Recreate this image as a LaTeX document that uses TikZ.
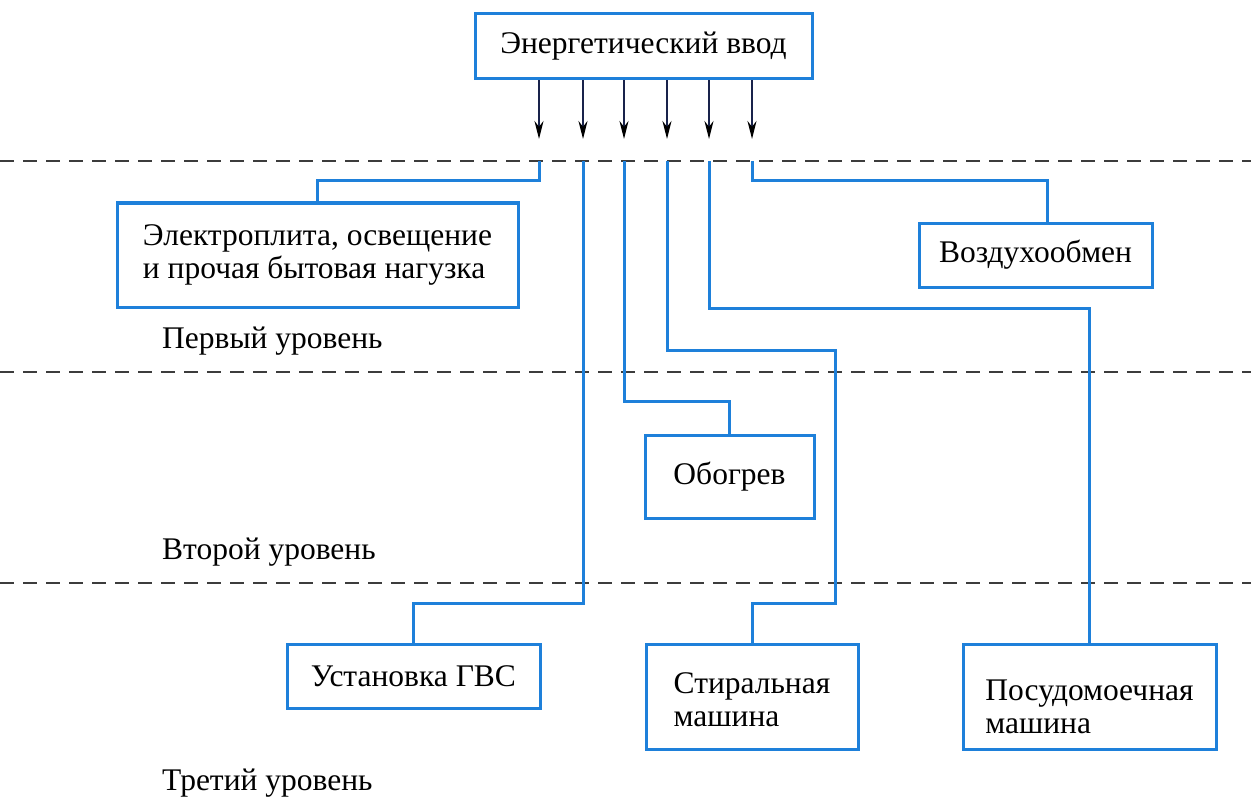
\documentclass[tikz,border=0pt]{standalone}
\usepackage{fontspec}
\setmainfont{Liberation Serif}
\usetikzlibrary{arrows.meta}
\definecolor{boxblue}{RGB}{30,128,218}
\definecolor{arrnavy}{RGB}{25,35,75}
\definecolor{dashgray}{RGB}{60,60,60}
\tikzset{
  box/.style={draw=boxblue, line width=3pt, rectangle, inner sep=0pt, fill=white,
    font=\fontsize{31.5}{33}\selectfont, align=left},
  conn/.style={draw=boxblue, line width=3pt},
  feed/.style={draw=arrnavy, line width=2pt, -{Stealth[length=18pt,width=9pt,black]}},
  levelsep/.style={draw=dashgray, line width=1.6pt, dash pattern=on 14pt off 9pt},
  lvl/.style={anchor=west, inner sep=0pt, font=\fontsize{31.5}{33}\selectfont}
}
\begin{document}
\begin{tikzpicture}[x=1pt,y=-1pt]
\useasboundingbox (0,0) rectangle (1251,797);
% level separators
\draw[levelsep] (0,161) -- (1251,161);
\draw[levelsep] (0,372) -- (1251,372);
\draw[levelsep] (0,583) -- (1251,583);
% boxes
\node[box, minimum width=337pt, minimum height=65pt] (top) at (643.5,46.5) {Энергетический ввод};
\node[box, minimum width=401pt, minimum height=104pt] (plita) at (317.5,255) {Электроплита, освещение\\и прочая бытовая нагузка};
\node[box, minimum width=233pt, minimum height=64pt] (vozd) at (1035.5,255) {Воздухообмен};
\node[box, minimum width=169pt, minimum height=83pt] (obog) at (729.5,476.5) {Обогрев};
\node[box, minimum width=253pt, minimum height=64pt] (gvs) at (413.5,676) {Установка ГВС};
\node[box, minimum width=212pt, minimum height=105pt] (stir) at (752,696.5) {\rule{0pt}{28pt}Стиральная\\машина};
\node[box, minimum width=253pt, minimum height=105pt] (posud) at (1089.5,696.5) {\rule{0pt}{42pt}Посудомоечная\\машина};
% level labels
\node[lvl] (l1) at (162,341) {Первый уровень};
\node[lvl] (l2) at (162,552) {Второй уровень};
\node[lvl] (l3) at (162,783) {Третий уровень};
% arrow ends and line starts
\foreach \i/\x in {1/539,2/583,3/624,4/667,5/709,6/752}{
  \coordinate (a\i) at (\x,139);
  \coordinate (s\i) at (\x,161);
}
\foreach \i in {1,...,6}{
  \draw[feed] (top.south -| a\i) -- (a\i);
}
% connectors
\draw[conn] (s1) -- ++(0,20) -| (plita.north);
\draw[conn] (s2) -- (583,603) -| (gvs.north);
\draw[conn] (s3) -- (624,401) -| (obog.north);
\draw[conn] (s4) -- (667,350) -- (835,350) -- (835,603) -| (stir.north);
\draw[conn] (s5) -- (709,308) -| (posud.north);
\draw[conn] (s6) -- ++(0,20) -| ([xshift=11.5pt]vozd.north);
\end{tikzpicture}
\end{document}
